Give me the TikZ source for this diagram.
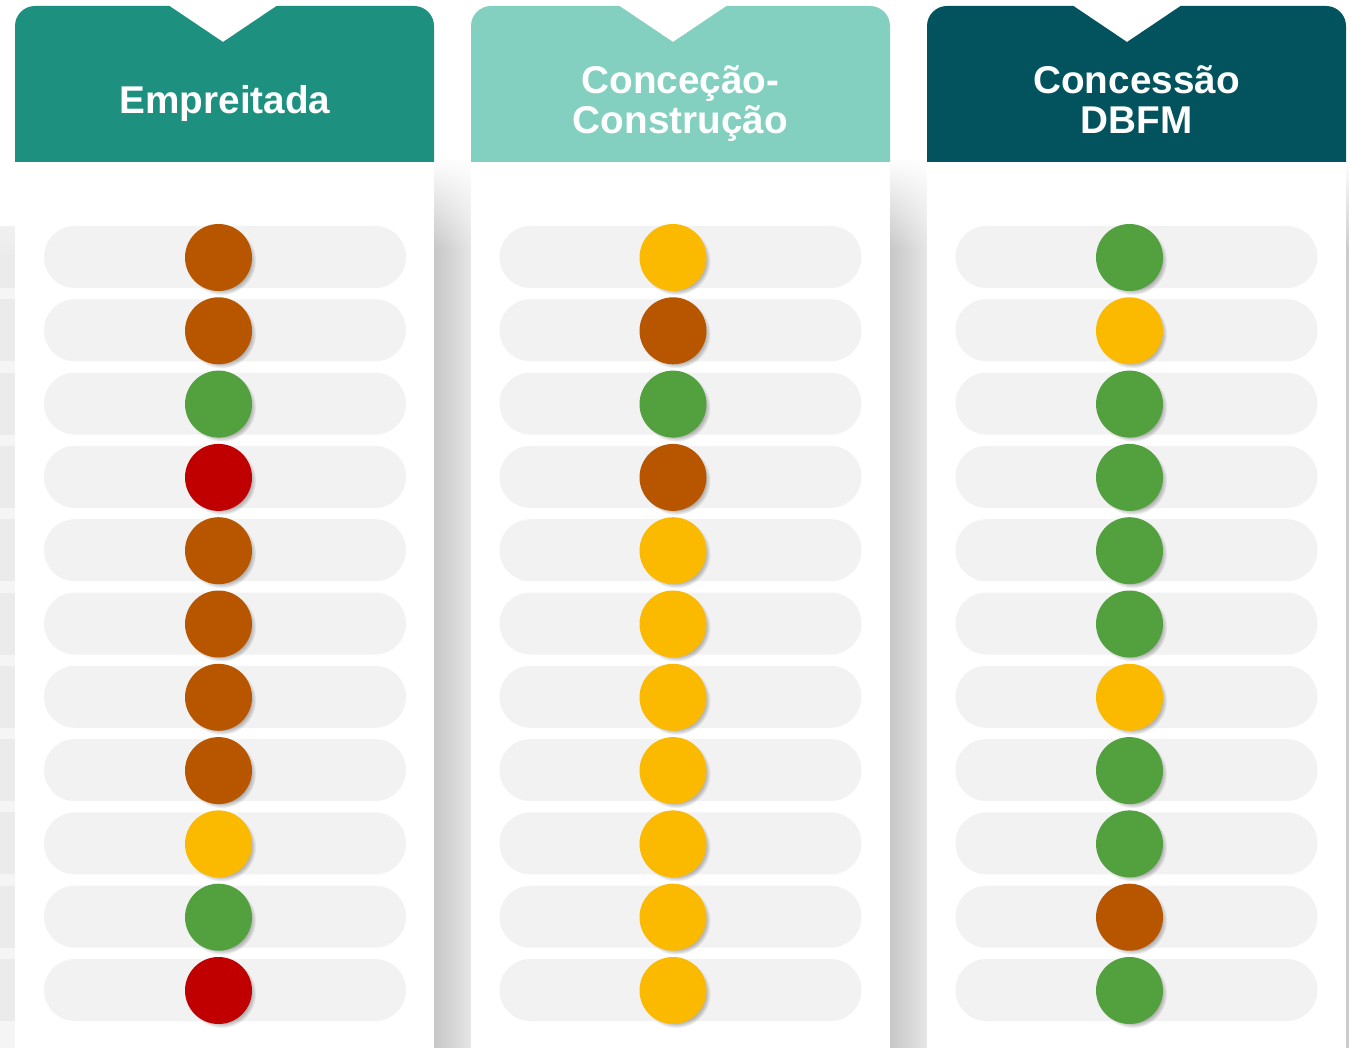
\documentclass[tikz,border=0pt]{standalone}
\usepackage{fontspec}
\setmainfont{Liberation Sans}
\usetikzlibrary{shadows,fadings}
\definecolor{hA}{HTML}{1D9080}
\definecolor{hB}{HTML}{83CFC0}
\definecolor{hC}{HTML}{02535E}
\definecolor{cO}{HTML}{B85600}
\definecolor{cG}{HTML}{53A03F}
\definecolor{cR}{HTML}{C00000}
\definecolor{cY}{HTML}{FBBA00}
\definecolor{pillc}{HTML}{F2F2F2}
\begin{document}
\begin{tikzpicture}[x=1pt,y=-1pt,
  pillbox/.style={rectangle, rounded corners=31pt, fill=pillc, minimum width=362pt, minimum height=62pt, inner sep=0pt},
  dot/.style={circle, minimum size=67pt, inner sep=0pt,
    circular drop shadow={shadow xshift=3pt, shadow yshift=-3pt, shadow scale=1.03, opacity=0.55}},
  title/.style={text=white, font=\bfseries\fontsize{38.7}{40}\selectfont, align=center, inner sep=0pt}]
\fill[white] (0,0) rectangle (1349,1048);
\useasboundingbox (0,0) rectangle (1349,1048);
% left edge stripes
\fill[black!4] (0,226) rectangle (15,1048);
\foreach \i in {0,...,10}{
  \fill[black!8] (0,{226+73.3*\i}) rectangle (15,{288+73.3*\i});
}
\fill[white, path fading=south] (0,150) rectangle (15,260);
% shadows between cards
\foreach \g in {434,890}{
  \shade[left color=black!22, right color=black!10] (\g,160) rectangle ({\g+37},1048);
  \fill[white, path fading=south] (\g,158) rectangle ({\g+37},250);
}
\fill[black!20] (1346,250) rectangle (1349,1048);
\shade[top color=white, bottom color=black!20] (1346,160) rectangle (1349,250);
% cards
\foreach \L/\hc/\n in {15/hA/223,471/hB/673,927/hC/1127}{
  \fill[white] (\L,160) rectangle ({\L+419},1048);
  \fill[\hc] (\L,162) -- (\L,26) arc[start angle=180,end angle=270,radius=20]
     -- ({\n-53.5},6) -- (\n,42) -- ({\n+53.5},6) -- ({\L+399},6)
     arc[start angle=270,end angle=360,radius=20] -- ({\L+419},162) -- cycle;
}
% titles
\node[title, anchor=base] (t1) at (225,113.3) {Empreitada};
\node[title, anchor=base] (t2) at (680.5,133.3) {Conceção-\\Construção};
\node[title, anchor=base] (t3) at (1136.5,133.3) {Concessão\\DBFM};
% pills and dots
\foreach \c/\px/\dx/\cols in {1/225/218.5/{cO,cO,cG,cR,cO,cO,cO,cO,cY,cG,cR},
                          2/680.5/673/{cY,cO,cG,cO,cY,cY,cY,cY,cY,cY,cY},
                          3/1136.5/1129.5/{cG,cY,cG,cG,cG,cG,cY,cG,cG,cO,cG}}{
  \foreach \col [count=\r from 0] in \cols {
    \node[pillbox] (p\c-\r) at (\px,{257+73.3*\r}) {};
    \node[dot, fill=\col] (d\c-\r) at (\dx,{257.5+73.3*\r}) {};
  }
}
\end{tikzpicture}
\end{document}
